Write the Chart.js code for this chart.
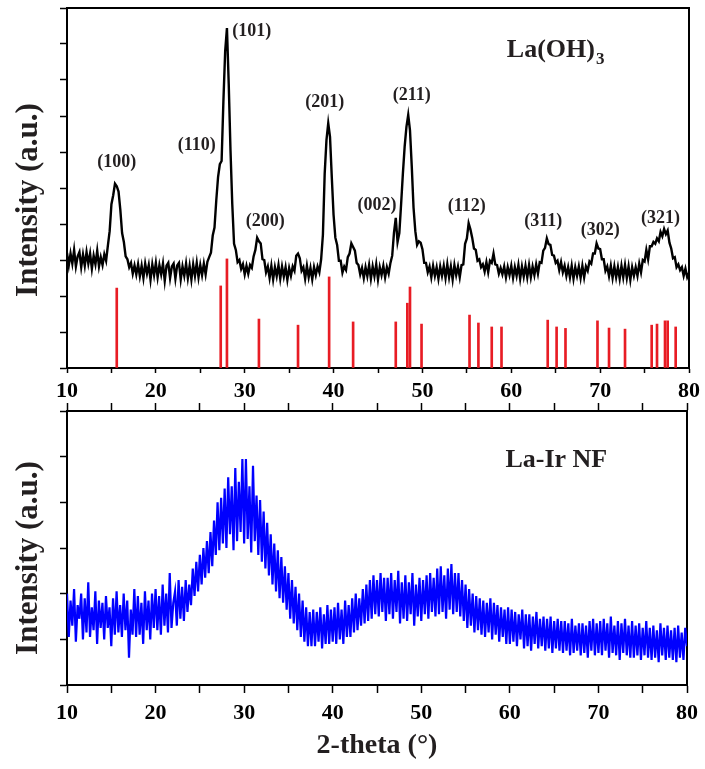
<!DOCTYPE html>
<html>
<head>
<meta charset="utf-8">
<script src="https://cdn.jsdelivr.net/npm/chart.js@4.4.1/dist/chart.umd.min.js"></script>
<style>
  html, body { margin: 0; padding: 0; background: #ffffff; }
  #wrap { position: relative; width: 705px; height: 769px; }
  canvas { position: absolute; left: 0; top: 0; }
</style>
</head>
<body>
<div id="wrap">
  <canvas id="c1" width="705" height="769"></canvas>
  <canvas id="c2" width="705" height="769"></canvas>
</div>
<script>
// ---------- data ----------
const scanStart = 10, scanStep = 0.2;

// La(OH)3 measured pattern (2θ = 10 … 80, step 0.2°)
const laOH3 = [
  3.20,2.85,3.18,2.90,3.28,2.82,3.10,3.22,2.80,3.15,
  2.84,3.22,2.90,3.18,2.76,3.12,2.88,3.26,2.82,3.08,
  2.86,3.16,2.98,3.40,3.80,4.55,4.80,5.12,5.05,4.90,
  4.40,3.75,3.50,3.10,3.02,2.80,2.92,2.62,2.85,2.60,
  2.88,2.55,2.84,2.50,2.90,2.62,2.86,2.45,2.88,2.58,
  2.92,2.52,2.86,2.60,2.90,2.42,2.84,2.92,2.50,2.82,
  2.90,2.48,2.85,2.92,2.46,2.82,2.56,2.90,2.50,2.84,
  2.46,2.88,2.56,2.92,2.52,2.86,2.58,2.90,2.60,2.95,
  3.08,3.20,3.68,3.90,4.66,5.30,5.66,5.75,7.40,8.80,
  9.44,7.90,6.05,4.55,3.45,3.28,2.94,3.00,2.75,2.88,
  2.60,2.84,2.62,2.86,2.78,3.10,3.28,3.62,3.52,3.46,
  3.02,3.00,2.66,2.82,2.50,2.84,2.46,2.80,2.55,2.86,
  2.48,2.82,2.54,2.80,2.45,2.78,2.56,2.82,2.70,3.12,
  3.18,3.05,2.70,2.80,2.48,2.84,2.52,2.78,2.46,2.80,
  2.58,2.82,2.66,3.02,3.70,5.40,6.33,6.80,6.42,5.30,
  4.25,3.62,3.42,2.98,2.98,2.65,2.82,2.72,3.08,3.18,
  3.46,3.36,3.26,2.92,2.86,2.60,2.78,2.50,2.80,2.55,
  2.86,2.48,2.82,2.55,2.88,2.46,2.80,2.58,2.84,2.52,
  2.80,2.62,2.92,3.12,3.76,4.17,3.50,3.75,4.55,5.40,
  6.15,6.70,7.03,6.60,5.60,4.45,3.80,3.42,3.52,3.48,
  3.30,2.92,2.92,2.66,2.82,2.52,2.84,2.56,2.80,2.48,
  2.82,2.56,2.84,2.50,2.88,2.52,2.82,2.46,2.86,2.58,
  2.82,2.52,2.86,2.88,3.45,3.60,4.02,3.85,3.62,3.32,
  3.28,2.98,3.02,2.80,2.88,2.68,2.94,2.66,2.98,2.92,
  3.18,2.88,2.86,2.62,2.78,2.60,2.82,2.52,2.80,2.58,
  2.84,2.50,2.80,2.56,2.86,2.48,2.82,2.54,2.84,2.52,
  2.86,2.52,2.82,2.58,2.88,2.62,2.94,2.92,3.26,3.34,
  3.60,3.44,3.42,3.14,3.12,2.92,2.98,2.72,2.94,2.66,
  2.84,2.56,2.80,2.52,2.84,2.48,2.80,2.56,2.82,2.50,
  2.84,2.52,2.82,2.70,2.96,2.90,3.18,3.18,3.46,3.32,
  3.30,3.02,3.02,2.70,2.82,2.55,2.84,2.50,2.82,2.52,
  2.80,2.48,2.84,2.52,2.86,2.50,2.82,2.45,2.80,2.56,
  2.80,2.56,2.90,2.66,3.00,2.96,3.28,3.02,3.38,3.38,
  3.50,3.45,3.60,3.52,3.78,3.66,3.86,3.72,3.82,3.48,
  3.32,3.05,3.08,2.80,2.88,2.72,2.80,2.56,2.76,2.52,
  2.64
];

// La(OH)3 standard reference lines
const refPos = [15.6,27.3,28.0,31.6,36.0,39.5,42.2,47.0,48.3,48.6,49.9,55.3,56.3,57.8,58.9,
                64.1,65.1,66.1,69.7,71.0,72.8,75.8,76.4,77.3,77.6,78.5];
const refInt = [2.22,2.28,3.03,1.36,1.19,2.53,1.28,1.28,1.80,2.25,1.22,1.47,1.25,1.14,1.14,
                1.33,1.14,1.10,1.31,1.11,1.08,1.19,1.22,1.31,1.31,1.14];

// peak indices
const peakText = ['(100)','(110)','(101)','(200)','(201)','(002)','(211)','(112)','(311)','(302)','(321)'];
const peakX    = [15.6, 24.6, 30.8, 32.3, 39.0, 44.9, 48.8, 55.0, 63.6, 70.0, 76.8];
const peakY    = [5.72, 6.19, 9.35, 4.06, 7.39, 4.53, 7.56, 4.50, 4.06, 3.81, 4.17];

// La-Ir NF measured pattern (2θ = 10 … 80, step 0.2°)
const laIrNF = [
  2.00,1.05,1.85,1.30,2.10,0.95,1.75,1.45,2.00,1.00,
  1.90,1.15,2.25,1.05,1.70,1.20,2.05,0.90,1.85,1.25,
  1.80,1.00,1.95,1.25,1.70,0.85,1.90,1.10,2.05,1.15,
  1.75,1.05,2.00,1.20,1.85,0.60,1.65,1.10,2.10,1.05,
  1.95,1.10,1.80,0.90,2.05,1.20,1.85,1.00,2.00,1.25,
  2.10,1.20,1.95,1.10,2.20,1.30,2.00,1.15,2.45,1.25,
  1.80,2.05,1.30,2.30,1.45,2.15,1.40,2.30,1.60,2.20,
  1.75,2.55,1.95,2.70,2.05,2.85,2.20,3.00,2.35,3.15,
  2.45,3.35,2.60,3.60,2.85,4.00,2.95,4.10,3.10,4.30,
  3.00,4.55,3.30,4.35,2.95,4.75,3.15,4.45,3.35,4.95,
  3.10,4.95,3.20,4.35,2.90,4.80,3.15,4.15,2.85,4.05,
  2.70,3.80,2.55,3.55,2.40,3.30,2.20,3.10,2.05,2.95,
  1.90,2.80,1.80,2.60,1.65,2.45,1.45,2.30,1.35,2.15,
  1.20,2.00,1.05,1.85,0.95,1.70,0.85,1.60,0.85,1.65,
  0.85,1.60,0.95,1.70,0.80,1.55,0.90,1.75,0.90,1.65,
  0.95,1.70,0.90,1.80,1.00,1.65,0.90,1.85,1.05,1.75,
  1.05,1.90,1.15,2.00,1.20,1.90,1.30,2.10,1.35,2.20,
  1.40,2.30,1.45,2.40,1.55,2.30,1.50,2.45,1.60,2.35,
  1.40,2.35,1.55,2.45,1.45,2.30,1.60,2.50,1.35,2.25,
  1.45,2.40,1.40,2.25,1.55,2.45,1.30,2.20,1.50,2.35,
  1.40,2.30,1.55,2.40,1.45,2.45,1.60,2.35,1.50,2.55,
  1.55,2.60,1.60,2.40,1.45,2.55,1.65,2.65,1.55,2.45,
  1.60,2.45,1.50,2.30,1.40,2.20,1.25,2.10,1.30,2.00,
  1.15,1.95,1.20,1.90,1.10,1.85,1.05,1.80,1.15,1.90,
  1.00,1.80,1.10,1.75,0.95,1.70,1.05,1.65,0.90,1.70,
  0.90,1.65,0.95,1.60,0.85,1.55,1.00,1.65,0.80,1.55,
  0.85,1.55,0.75,1.50,0.90,1.60,0.80,1.45,0.85,1.50,
  0.75,1.45,0.80,1.50,0.70,1.40,0.80,1.45,0.75,1.40,
  0.70,1.40,0.75,1.35,0.65,1.45,0.70,1.30,0.75,1.35,
  0.65,1.35,0.70,1.30,0.60,1.40,0.75,1.45,0.65,1.35,
  0.70,1.40,0.65,1.45,0.75,1.35,0.60,1.50,0.70,1.30,
  0.65,1.40,0.55,1.35,0.70,1.45,0.65,1.30,0.60,1.40,
  0.60,1.30,0.65,1.35,0.55,1.25,0.65,1.40,0.60,1.25,
  0.55,1.30,0.60,1.20,0.50,1.35,0.65,1.25,0.55,1.30,
  0.60,1.20,0.55,1.25,0.50,1.30,0.60,1.15,0.55,1.25,
  0.85
];

const xTickValues = [10,20,30,40,50,60,70,80];

// ---------- helpers ----------
const SERIF = '"Liberation Serif", "Times New Roman", serif';
const TXT = '#231f20';
function toPoints(arr) { return arr.map((v, i) => ({ x: +(scanStart + scanStep * i).toFixed(1), y: v })); }

function axisCommon(extra) {
  return Object.assign({
    grid: { drawOnChartArea: false, tickLength: 7, tickColor: '#000', tickWidth: 1.5 },
    border: { color: '#000', width: 2 }
  }, extra);
}

const textPlugin = {
  id: 'textPlugin',
  afterDraw(chart, args, opts) {
    const ctx = chart.ctx, xs = chart.scales.x, ys = chart.scales.y, ca = chart.chartArea;
    ctx.save();
    ctx.fillStyle = TXT;
    // y title
    ctx.save();
    ctx.font = 'bold 31px ' + SERIF;
    ctx.textAlign = 'center'; ctx.textBaseline = 'middle';
    ctx.translate(29, (ca.top + ca.bottom) / 2 + opts.titleShift);
    ctx.rotate(-Math.PI / 2);
    ctx.fillText('Intensity (a.u.)', 0, 0);
    ctx.restore();
    // peak labels
    if (opts.peaks) {
      ctx.font = 'bold 18px ' + SERIF;
      ctx.textAlign = 'center'; ctx.textBaseline = 'middle';
      peakText.forEach((t, i) => ctx.fillText(t, xs.getPixelForValue(peakX[i]), ys.getPixelForValue(peakY[i])));
    }
    // sample label
    const lx = xs.getPixelForValue(opts.labelX), ly = ys.getPixelForValue(opts.labelY);
    ctx.font = 'bold 26px ' + SERIF;
    ctx.textAlign = 'left'; ctx.textBaseline = 'middle';
    ctx.fillText(opts.label, lx, ly);
    if (opts.sub) {
      const w = ctx.measureText(opts.label).width;
      ctx.font = 'bold 17px ' + SERIF;
      ctx.fillText(opts.sub, lx + w + 1, ly + 9);
    }
    ctx.restore();
  }
};

const tickSet = s => { s.ticks = [10,15,20,25,30,35,40,45,50,55,60,65,70,75,80].map(v => ({ value: v })); };

// ---------- top chart ----------
new Chart(document.getElementById('c1'), {
  type: 'line',
  data: {
    datasets: [
      { type: 'line', data: toPoints(laOH3), borderColor: '#000', borderWidth: 2.4,
        pointRadius: 0, tension: 0, order: 0 },
      { type: 'bar', data: refPos.map((x, i) => ({ x: x, y: refInt[i] })),
        backgroundColor: 'rgb(232,28,36)', barThickness: 2, grouped: false, order: 1 }
    ]
  },
  options: {
    responsive: false, animation: false, events: [], devicePixelRatio: 1,
    layout: { padding: { top: 8, right: 16, left: 0, bottom: 0 } },
    plugins: {
      legend: { display: false }, tooltip: { enabled: false },
      textPlugin: { peaks: true, label: 'La(OH)', sub: '3', labelX: 59.5, labelY: 8.83, titleShift: 12 }
    },
    scales: {
      x: axisCommon({
        type: 'linear', position: 'bottom', min: 10, max: 80, offset: false,
        afterBuildTicks: tickSet,
        ticks: { autoSkip: false, maxRotation: 0, padding: 5, color: '#000',
                 font: { family: SERIF, size: 22, weight: 'bold' },
                 callback: v => xTickValues.includes(v) ? String(v) : '' },
        grid: { drawOnChartArea: false, tickLength: 5, tickColor: '#000', tickWidth: 1.5, offset: false },
        afterFit: s => { s.height = 401; }
      }),
      xTop: { type: 'linear', position: 'top', min: 10, max: 80, offset: false,
        ticks: { display: false }, grid: { drawOnChartArea: false, drawTicks: false },
        border: { color: '#000', width: 2 } },
      y: axisCommon({
        type: 'linear', position: 'left', min: 0, max: 10,
        ticks: { display: false, stepSize: 1 },
        afterFit: s => { s.width = 67; }
      }),
      yRight: { type: 'linear', position: 'right', min: 0, max: 10,
        ticks: { display: false }, grid: { drawOnChartArea: false, drawTicks: false },
        border: { color: '#000', width: 2 } }
    }
  },
  plugins: [textPlugin]
});

// ---------- bottom chart ----------
new Chart(document.getElementById('c2'), {
  type: 'line',
  data: {
    datasets: [
      { data: toPoints(laIrNF), borderColor: 'rgb(0,0,255)', borderWidth: 2.2,
        pointRadius: 0, tension: 0 }
    ]
  },
  options: {
    responsive: false, animation: false, events: [], devicePixelRatio: 1,
    layout: { padding: { top: 403, right: 16, left: 0, bottom: 0 } },
    plugins: {
      legend: { display: false }, tooltip: { enabled: false },
      textPlugin: { peaks: false, label: 'La-Ir NF', sub: '', labelX: 59.5, labelY: 4.93, titleShift: 10 }
    },
    scales: {
      x: axisCommon({
        type: 'linear', position: 'bottom', min: 10, max: 80, offset: false,
        afterBuildTicks: tickSet,
        ticks: { autoSkip: false, maxRotation: 0, padding: 7, color: '#000',
                 font: { family: SERIF, size: 22, weight: 'bold' },
                 callback: v => xTickValues.includes(v) ? String(v) : '' },
        grid: { drawOnChartArea: false, tickLength: 8, tickColor: '#000', tickWidth: 1.5, offset: false },
        title: { display: true, text: '2-theta (°)', color: TXT, padding: { top: 0, bottom: 6 },
                 font: { family: SERIF, size: 28, weight: 'bold' } },
        afterFit: s => { s.height = 84; }
      }),
      xTop: { type: 'linear', position: 'top', min: 10, max: 80, offset: false,
        afterBuildTicks: tickSet,
        ticks: { display: false },
        grid: { drawOnChartArea: false, tickLength: 8, tickColor: '#000', tickWidth: 1.5 },
        border: { color: '#000', width: 2 } },
      y: axisCommon({
        type: 'linear', position: 'left', min: 0, max: 6,
        ticks: { display: false, stepSize: 1 },
        afterFit: s => { s.width = 67; }
      }),
      yRight: { type: 'linear', position: 'right', min: 0, max: 6,
        ticks: { display: false }, grid: { drawOnChartArea: false, drawTicks: false },
        border: { color: '#000', width: 2 } }
    }
  },
  plugins: [textPlugin]
});
</script>
</body>
</html>
